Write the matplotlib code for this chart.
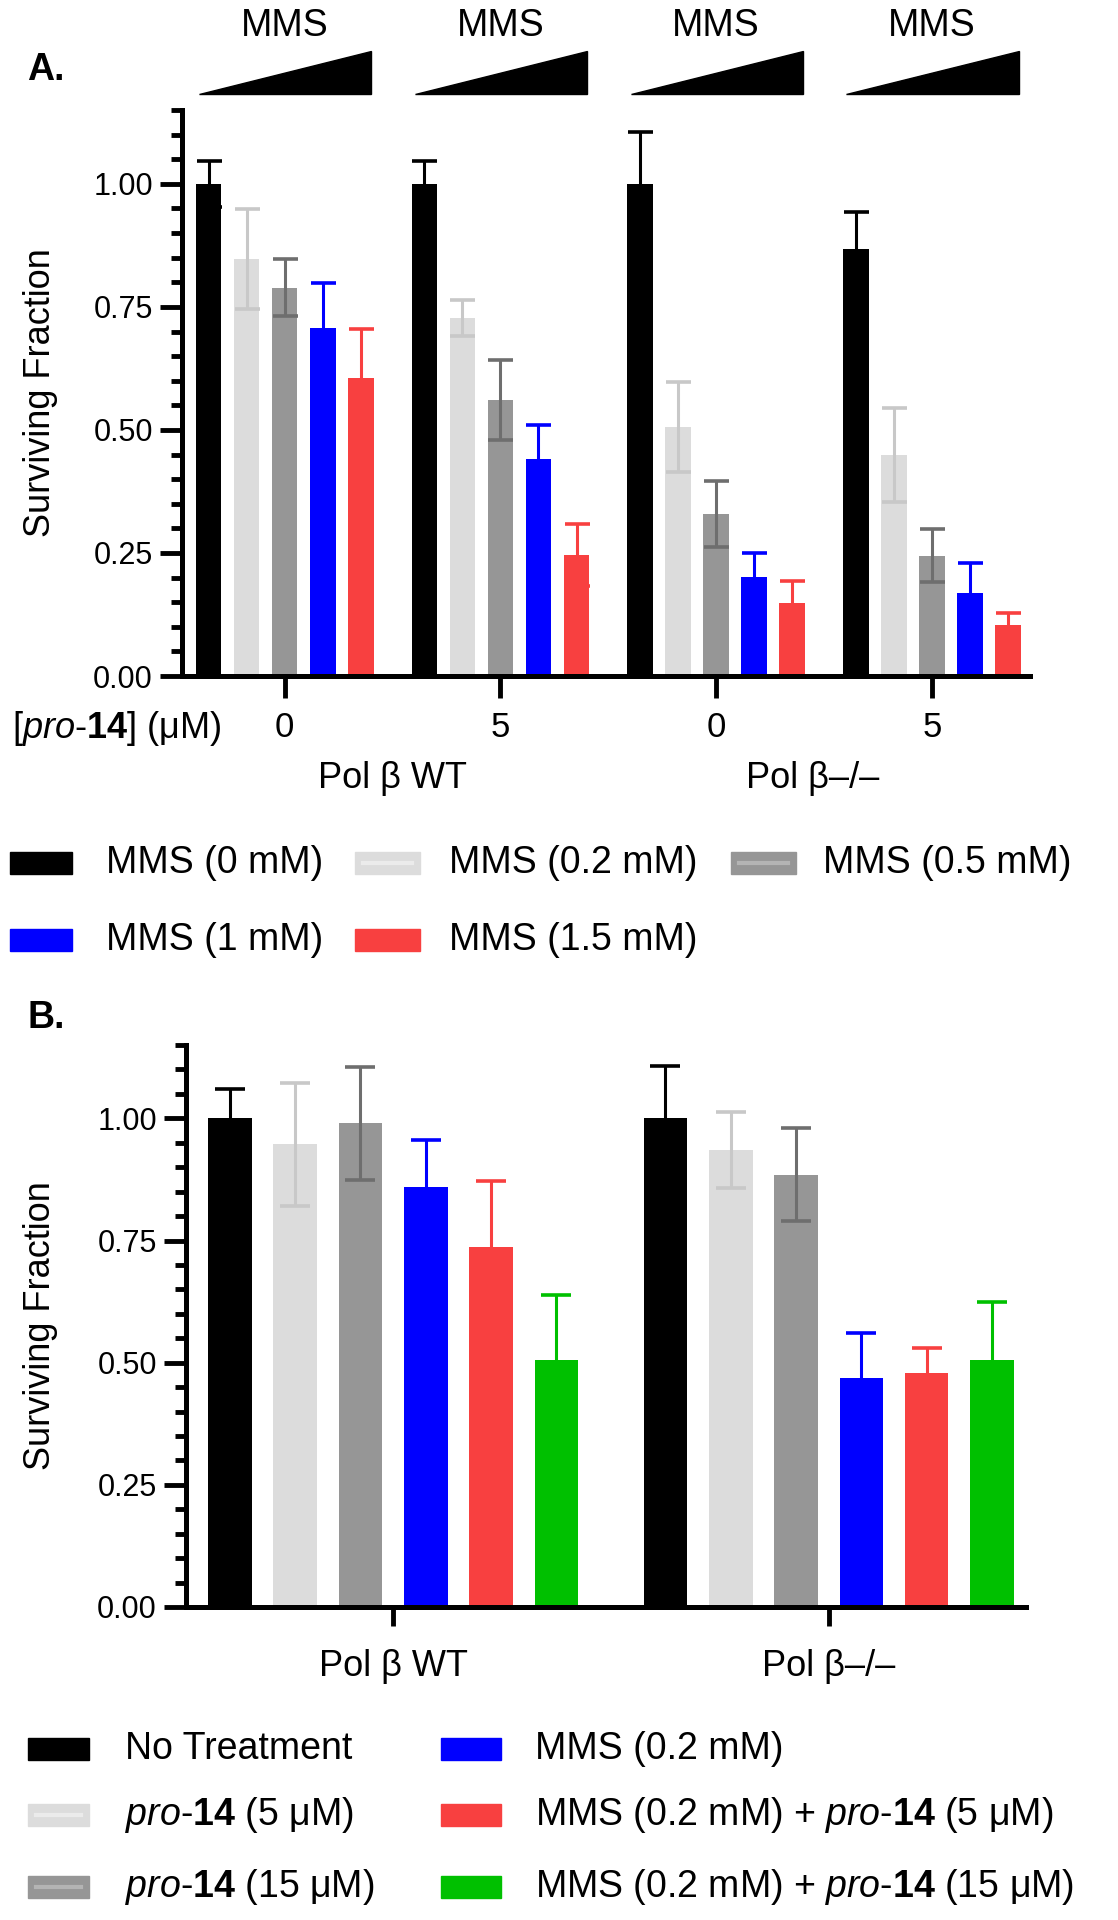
import numpy as np
import matplotlib
matplotlib.use("Agg")
from matplotlib import pyplot as plt
from matplotlib import transforms
from matplotlib.patches import Rectangle, Polygon
from matplotlib.lines import Line2D
from matplotlib.ticker import MultipleLocator

plt.rcParams['font.family'] = ['Liberation Sans', 'DejaVu Sans']
plt.rcParams['mathtext.fontset'] = 'custom'
plt.rcParams['mathtext.rm'] = 'Liberation Sans'
plt.rcParams['mathtext.it'] = 'Liberation Sans:italic'
plt.rcParams['mathtext.bf'] = 'Liberation Sans:bold'

# ---- panel A data (groups: WT 0, WT 5, KO 0, KO 5)
a_ticks = ['0', '5', '0', '5']
a_cells = ['Pol β WT', 'Pol β–/–']
a_labels = ['MMS (0 mM)', 'MMS (0.2 mM)', 'MMS (0.5 mM)', 'MMS (1 mM)', 'MMS (1.5 mM)']
a_mms0 = [1.00, 1.00, 1.00, 0.868]
a_mms02 = [0.847, 0.728, 0.506, 0.449]
a_mms05 = [0.789, 0.561, 0.329, 0.244]
a_mms1 = [0.707, 0.441, 0.201, 0.168]
a_mms15 = [0.606, 0.246, 0.148, 0.104]
a_err0 = [0.047, 0.047, 0.106, 0.075]
a_err02 = [0.102, 0.037, 0.092, 0.095]
a_err05 = [0.058, 0.082, 0.067, 0.054]
a_err1 = [0.091, 0.070, 0.049, 0.062]
a_err15 = [0.099, 0.063, 0.045, 0.024]

# ---- panel B data (groups: WT, KO)
b_ticks = ['Pol β WT', 'Pol β–/–']
b_labels = ['No Treatment',
            r'$\mathit{pro}$-$\mathbf{14}$ (5 μM)',
            r'$\mathit{pro}$-$\mathbf{14}$ (15 μM)',
            'MMS (0.2 mM)',
            r'MMS (0.2 mM) + $\mathit{pro}$-$\mathbf{14}$ (5 μM)',
            r'MMS (0.2 mM) + $\mathit{pro}$-$\mathbf{14}$ (15 μM)']
b_none = [1.00, 1.00]
b_pro5 = [0.947, 0.935]
b_pro15 = [0.990, 0.885]
b_mms = [0.859, 0.468]
b_mms_pro5 = [0.736, 0.479]
b_mms_pro15 = [0.505, 0.505]
b_err_none = [0.060, 0.108]
b_err_pro5 = [0.126, 0.077]
b_err_pro15 = [0.116, 0.096]
b_err_mms = [0.096, 0.092]
b_err_mms_pro5 = [0.135, 0.052]
b_err_mms_pro15 = [0.133, 0.120]

bar_colors = ['#000000', '#dcdcdc', '#969696', '#0000ff', '#f84040', '#00c000']
err_colors = ['#000000', '#c8c8c8', '#6e6e6e', '#0000ff', '#f84040', '#00c000']
swatch_lines = [None, '#ebebeb', '#b4b4b4', None, None, None]

W, H = 1118, 1920
fig = plt.figure(figsize=(W / 100, H / 100), dpi=100)


def fy(px):
    return 1 - px / H


def style_axis(ax, xlen):
    for s in ['top', 'right']:
        ax.spines[s].set_visible(False)
    for s in ['left', 'bottom']:
        ax.spines[s].set_linewidth(3.6)
    ax.set_ylim(0, 1.1501)
    ax.yaxis.set_major_locator(MultipleLocator(0.25))
    ax.yaxis.set_minor_locator(MultipleLocator(0.05))
    ax.set_yticks([0, 0.25, 0.5, 0.75, 1.0])
    ax.set_yticklabels(['0.00', '0.25', '0.50', '0.75', '1.00'])
    ax.tick_params(axis='y', which='major', length=16, width=3.5, labelsize=22, pad=5)
    ax.tick_params(axis='y', which='minor', length=8, width=3.5)
    ax.tick_params(axis='x', which='major', length=xlen, width=3.5)


def draw_bars(ax, centers, series, errs, width):
    n = len(series)
    for i in range(n):
        x = centers + (i - (n - 1) / 2)
        ax.bar(x, series[i], width=width, color=bar_colors[i], zorder=2)
        ax.errorbar(x, series[i], yerr=errs[i], fmt='none', ecolor=err_colors[i],
                    elinewidth=2.2, capsize=9 if n == 5 else 11, capthick=2.6, zorder=3)


def draw_legend(labels, cols_sw, cols_txt, rows, order):
    for k, i in enumerate(order):
        r, c = rows[k], cols_sw[k]
        x0, x1 = c
        rect = Rectangle((x0 / W, fy(r + 11)), (x1 - x0) / W, 22 / H,
                         transform=fig.transFigure, color=bar_colors[i])
        fig.add_artist(rect)
        if swatch_lines[i]:
            fig.add_artist(Line2D([(x0 + 8) / W, (x1 - 8) / W], [fy(r), fy(r)],
                                  transform=fig.transFigure, color=swatch_lines[i], lw=3))
        fig.text(cols_txt[k] / W, fy(r), labels[i], fontsize=27, ha='left', va='center')


# ================= Panel A
axA = fig.add_axes([182 / W, fy(676), (1030 - 182) / W, (676 - 110) / H])
a_centers = np.arange(4) * 5.67
a_series = [a_mms0, a_mms02, a_mms05, a_mms1, a_mms15]
a_errs = [a_err0, a_err02, a_err05, a_err1, a_err15]
draw_bars(axA, a_centers, a_series, a_errs, 0.67)
axA.set_xlim(-2.70, 19.59)
style_axis(axA, 16)
axA.set_xticks(a_centers)
axA.set_xticklabels(a_ticks, fontsize=25)
axA.tick_params(axis='x', pad=9)

blendA = transforms.blended_transform_factory(axA.transData, fig.transFigure)
for c in a_centers:
    axA.text(c, fy(26), 'MMS', fontsize=27, ha='center', va='center', transform=blendA)
    tri = Polygon([[c - 2.25, fy(94)], [c + 2.28, fy(94)], [c + 2.28, fy(51)]],
                  closed=True, color='black', transform=blendA, clip_on=False)
    axA.add_patch(tri)
for j, name in enumerate(a_cells):
    mid = (a_centers[2 * j] + a_centers[2 * j + 1]) / 2 - 0.3 * j
    axA.text(mid, fy(778), name, fontsize=26, ha='center', va='center', transform=blendA)

fig.text(12 / W, fy(728), r'[$\mathit{pro}$-$\mathbf{14}$] (μM)', fontsize=26,
         ha='left', va='center')
fig.text(41 / W, fy(393), 'Surviving Fraction', fontsize=26, rotation=90,
         ha='center', va='center')
fig.text(27 / W, fy(70), 'A.', fontsize=27, fontweight='bold', ha='left', va='center')

draw_legend(a_labels,
            [(10, 72), (355, 420), (731, 796), (10, 72), (355, 420)],
            [106, 449, 823, 106, 449],
            [863, 863, 863, 940, 940],
            [0, 1, 2, 3, 4])

# ================= Panel B
axB = fig.add_axes([186 / W, fy(1607), (1026 - 186) / W, (1607 - 1045) / H])
b_centers = np.arange(2) * 6.67
b_series = [b_none, b_pro5, b_pro15, b_mms, b_mms_pro5, b_mms_pro15]
b_errs = [b_err_none, b_err_pro5, b_err_pro15, b_err_mms, b_err_mms_pro5, b_err_mms_pro15]
draw_bars(axB, b_centers, b_series, b_errs, 0.667)
axB.set_xlim(-3.17, 9.69)
style_axis(axB, 14)
axB.set_xticks(b_centers)
axB.set_xticklabels(b_ticks, fontsize=26)
axB.tick_params(axis='x', pad=16)

fig.text(41 / W, fy(1326), 'Surviving Fraction', fontsize=26, rotation=90,
         ha='center', va='center')
fig.text(27 / W, fy(1018), 'B.', fontsize=27, fontweight='bold', ha='left', va='center')

draw_legend(b_labels,
            [(28, 89), (28, 89), (28, 89), (441, 501), (441, 501), (441, 501)],
            [125, 125, 125, 535, 535, 535],
            [1749, 1815, 1887, 1749, 1815, 1887],
            [0, 1, 2, 3, 4, 5])

fig.savefig('out.png', dpi=100)
